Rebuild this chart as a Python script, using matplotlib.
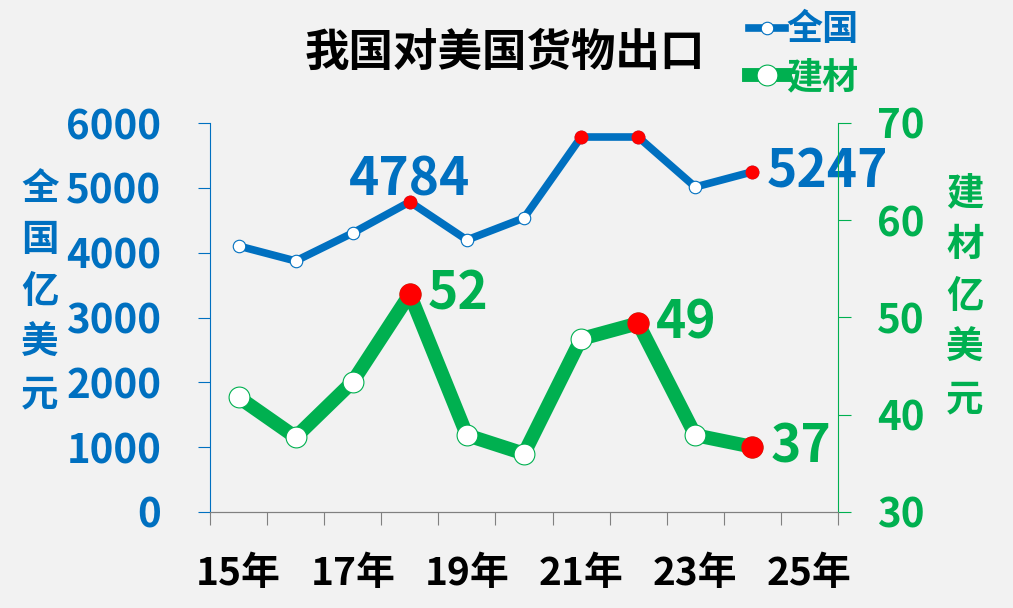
import matplotlib.pyplot as plt

plt.rcParams['font.family'] = ['Noto Sans CJK SC', 'DejaVu Sans']
plt.rcParams['font.weight'] = 'bold'

# data
years = ["15年", "16年", "17年", "18年", "19年", "20年", "21年", "22年", "23年", "24年", "25年"]
total = [4103, 3872, 4304, 4784, 4196, 4535, 5784, 5784, 5013, 5247]
building = [41.8, 37.7, 43.4, 52.4, 37.9, 36.0, 47.8, 49.4, 37.9, 36.7]
total_red = [3, 6, 7, 9]
building_red = [3, 7, 9]
total_labels = {3: "4784", 9: "5247"}
building_labels = {3: "52", 7: "49", 9: "37"}

blue = "#0070C0"
green = "#00B050"
red = "#FF0000"
bg = "#F2F2F2"

fig = plt.figure(figsize=(10.13, 6.08), dpi=100, facecolor=bg)
ax = fig.add_axes([210 / 1013, 96 / 608, 628 / 1013, 389 / 608], facecolor=bg)
ax2 = ax.twinx()

x = list(range(len(total)))

# blue series
l1, = ax.plot(x, total, color=blue, lw=5.5, marker="o", ms=9, mfc="white",
              mec=blue, mew=0.8, label="全国", zorder=3)
ax.plot([x[i] for i in total_red], [total[i] for i in total_red], "o", color=red,
        ms=9, mec=red, zorder=4)

# green series
l2, = ax2.plot(x, building, color=green, lw=10, marker="o", ms=15, mfc="white",
               mec=green, mew=0.8, label="建材", zorder=3)
ax2.plot([x[i] for i in building_red], [building[i] for i in building_red], "o",
         color=red, ms=15, mec=red, zorder=4)

# data labels
for i, s in total_labels.items():
    if i == 3:
        ax.annotate(s, (x[i], total[i]), xytext=(0, -3), textcoords="offset points",
                    ha="center", va="bottom", color=blue, fontsize=37, fontweight="bold")
    else:
        ax.annotate(s, (x[i], total[i]), xytext=(10, 0), textcoords="offset points",
                    ha="left", va="center", color=blue, fontsize=37, fontweight="bold")
for i, s in building_labels.items():
    ax2.annotate(s, (x[i], building[i]), xytext=(13, 0), textcoords="offset points",
                 ha="left", va="center", color=green, fontsize=37, fontweight="bold")

# axes
ax.set_xlim(-0.5, 10.5)
ax.set_ylim(0, 6000)
ax2.set_ylim(30, 70)
ax.set_yticks(range(0, 6001, 1000))
ax2.set_yticks(range(30, 71, 10))

ax.set_xticks([i - 0.5 for i in range(12)])
ax.set_xticklabels([])
ax.set_xticks(range(0, 11, 2), minor=True)
ax.set_xticklabels(years[::2], minor=True)
ax.tick_params(axis="x", which="major", length=9, color="#808080", direction="out")
ax.tick_params(axis="x", which="minor", length=0, pad=30, labelsize=28, labelcolor="black")

ax.tick_params(axis="y", length=9, color=blue, labelcolor=blue, labelsize=29, pad=26)
ax2.tick_params(axis="y", length=9, color=green, labelcolor=green, labelsize=29, pad=19)

for a in (ax, ax2):
    a.spines["top"].set_visible(False)
    a.spines["bottom"].set_color("#808080")
ax.spines["right"].set_visible(False)
ax.spines["left"].set_color(blue)
ax2.spines["left"].set_visible(False)
ax2.spines["right"].set_color(green)

# axis titles (vertical stacked)
fig.text(40 / 1013, 1 - 291 / 608, "全\n国\n亿\n美\n元", color=blue, fontsize=27,
         fontweight="bold", ha="center", va="center", linespacing=1.4)
fig.text(965 / 1013, 1 - 296 / 608, "建\n材\n亿\n美\n元", color=green, fontsize=27,
         fontweight="bold", ha="center", va="center", linespacing=1.4)

fig.text(505 / 1013, 1 - 53 / 608, "我国对美国货物出口", color="black", fontsize=32,
         fontweight="bold", ha="center", va="center")

leg = fig.legend(handles=[l1, l2], loc="upper left", bbox_to_anchor=(716 / 1013, 1.035),
                 frameon=False, fontsize=26, handlelength=1.0, handletextpad=0.05,
                 labelspacing=0.3, labelcolor="linecolor")

fig.savefig("out.png", dpi=100, facecolor=bg)
